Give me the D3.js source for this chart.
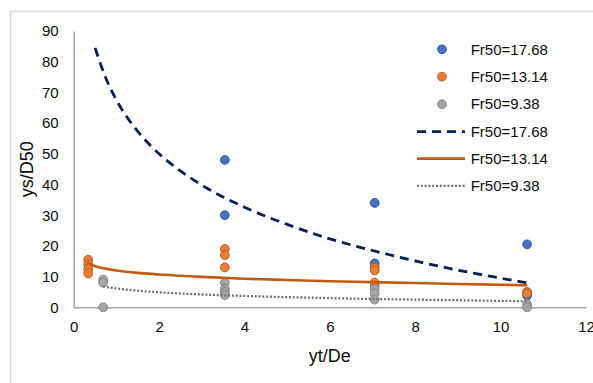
<!DOCTYPE html>
<html>
<head>
<meta charset="utf-8">
<script src="https://cdn.jsdelivr.net/npm/d3@7"></script>
<style>
  html, body { margin: 0; padding: 0; background: #fff; }
  svg { display: block; font-family: "Liberation Sans", Arial, sans-serif; }
</style>
</head>
<body>
<svg id="chart" width="593" height="383"></svg>
<script>
// Measured scour depth ys/D50 against tailwater ratio yt/De, three Froude numbers
const seriesNames = ["Fr50=17.68", "Fr50=13.14", "Fr50=9.38"];

const xFr1768 = [3.54, 3.54, 7.05, 7.05, 10.62, 10.62];
const yFr1768 = [48, 30, 34, 14.3, 20.5, 3.8];

const xFr1314 = [0.34, 0.34, 0.34, 0.34, 3.54, 3.54, 3.54, 7.05, 7.05, 7.05, 7.05, 10.62, 10.62];
const yFr1314 = [15.5, 14, 12.5, 11, 19, 17, 13, 13, 12, 8, 7, 5, 4.5];

const xFr938 = [0.69, 0.69, 0.69, 3.54, 3.54, 3.54, 3.54, 7.05, 7.05, 7.05, 10.62, 10.62];
const yFr938 = [9, 8, 0, 8, 6, 5, 4, 6, 4.5, 2.5, 1, 0];

// Logarithmic trend lines, sampled along x
const trendX1768 = [0.5, 0.6, 0.75, 1, 1.25, 1.5, 2, 2.5, 3, 4, 5, 6, 7, 8, 9, 10, 10.6];
const trendY1768 = [84.5, 80.4, 74.8, 67.5, 61.9, 57.3, 50.0, 44.4, 39.8, 32.6, 27.0, 22.3, 18.5, 15.1, 12.1, 9.5, 8.0];

const trendX1314 = [0.34, 0.5, 0.75, 1, 1.5, 2, 3, 4, 5, 6, 7, 8, 9, 10, 10.6];
const trendY1314 = [14.3, 13.4, 12.6, 12.0, 11.2, 10.7, 9.9, 9.3, 8.9, 8.5, 8.2, 7.9, 7.6, 7.35, 7.2];

const trendX938 = [0.69, 1, 1.5, 2, 3, 4, 5, 6, 7, 8, 9, 10, 10.6];
const trendY938 = [6.8, 6.15, 5.4, 4.9, 4.2, 3.7, 3.3, 3.0, 2.7, 2.5, 2.3, 2.1, 2.0];

const xTicks = [0, 2, 4, 6, 8, 10, 12];
const yTicks = [0, 10, 20, 30, 40, 50, 60, 70, 80, 90];

const svg = d3.select("#chart");

// outer chart frame (runs past the right and bottom edges)
svg.append("rect")
  .attr("x", 10.5).attr("y", 11.5)
  .attr("width", 640).attr("height", 420)
  .attr("fill", "none").attr("stroke", "#d9d9d9").attr("stroke-width", 1.5);

const x = d3.scaleLinear().domain([0, 12]).range([73.7, 586]);
const y = d3.scaleLinear().domain([0, 90]).range([307.3, 31]);

// axes: plain lines, no tick marks
const xAxis = d3.axisBottom(x).tickValues(xTicks).tickSize(0).tickPadding(14).tickFormat(d3.format("d"));
const yAxis = d3.axisLeft(y).tickValues(yTicks).tickSize(0).tickPadding(15).tickFormat(d3.format("d"));

const gx = svg.append("g").attr("transform", `translate(0,${y(0)})`).call(xAxis);
const gy = svg.append("g").attr("transform", `translate(${x(0)},0)`).call(yAxis);
[gx, gy].forEach(g => {
  g.select(".domain").attr("stroke", "#a6a6a6").attr("stroke-width", 1.5);
  g.selectAll("text").attr("font-size", 15).attr("fill", "#0d0d0d").attr("font-family", "Liberation Sans, Arial, sans-serif");
});

// axis titles
svg.append("text")
  .attr("x", (x(0) + x(12)) / 2).attr("y", 356)
  .attr("dy", "0.35em")
  .attr("text-anchor", "middle").attr("font-size", 18).attr("fill", "#0d0d0d")
  .text("yt/De");
svg.append("text")
  .attr("transform", `translate(27,${(y(0) + y(90)) / 2}) rotate(-90)`)
  .attr("dy", "0.35em")
  .attr("text-anchor", "middle").attr("font-size", 18).attr("fill", "#0d0d0d")
  .text("ys/D50");

// scatter series
const pointSeries = [
  { xs: xFr1768, ys: yFr1768, fill: "#4472c4", stroke: "#2f528f" },
  { xs: xFr1314, ys: yFr1314, fill: "#ed7d31", stroke: "#ae5a21" },
  { xs: xFr938,  ys: yFr938,  fill: "#a5a5a5", stroke: "#7f7f7f" }
];
const R = 4.4;
pointSeries.forEach(s => {
  svg.append("g").selectAll("circle")
    .data(s.xs.map((v, i) => [v, s.ys[i]]))
    .join("circle")
    .attr("cx", d => x(d[0])).attr("cy", d => y(d[1]))
    .attr("r", R)
    .attr("fill", s.fill).attr("stroke", s.stroke).attr("stroke-width", 0.9);
});

// trend lines
const trendSeries = [
  { xs: trendX1768, ys: trendY1768, color: "#002060", width: 2.8, dash: "9,6", cap: "butt" },
  { xs: trendX1314, ys: trendY1314, color: "#c55a11", width: 2.6, dash: null, cap: "round" },
  { xs: trendX938,  ys: trendY938,  color: "#6f6f6f", width: 2.3, dash: "2,1.8", cap: "butt" }
];
const line = d3.line().x(d => x(d[0])).y(d => y(d[1])).curve(d3.curveMonotoneX);
trendSeries.forEach(s => {
  svg.append("path")
    .datum(s.xs.map((v, i) => [v, s.ys[i]]))
    .attr("d", line)
    .attr("fill", "none")
    .attr("stroke", s.color).attr("stroke-width", s.width)
    .attr("stroke-linecap", s.cap)
    .attr("stroke-dasharray", s.dash);
});

// legend
const legendRowsY = [49.3, 76.7, 104.2, 131.6, 158.6, 185.8];
const lg = svg.append("g");
pointSeries.forEach((s, i) => {
  lg.append("circle")
    .attr("cx", 442).attr("cy", legendRowsY[i]).attr("r", R)
    .attr("fill", s.fill).attr("stroke", s.stroke).attr("stroke-width", 0.9);
  lg.append("text")
    .attr("x", 470.7).attr("y", legendRowsY[i]).attr("dy", "0.35em")
    .attr("font-size", 15).attr("fill", "#0d0d0d").text(seriesNames[i]);
});
trendSeries.forEach((s, i) => {
  const yy = legendRowsY[i + 3];
  lg.append("line")
    .attr("x1", 417).attr("x2", 465).attr("y1", yy).attr("y2", yy)
    .attr("stroke", s.color).attr("stroke-width", s.width)
    .attr("stroke-linecap", "butt")
    .attr("stroke-dasharray", s.dash);
  lg.append("text")
    .attr("x", 470.7).attr("y", yy).attr("dy", "0.35em")
    .attr("font-size", 15).attr("fill", "#0d0d0d").text(seriesNames[i]);
});
</script>
</body>
</html>
